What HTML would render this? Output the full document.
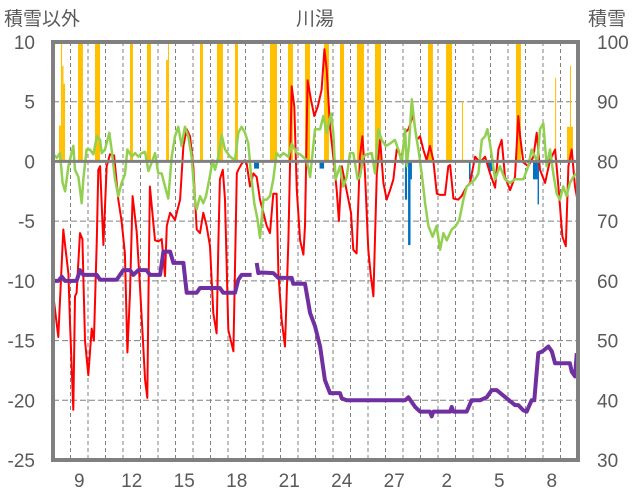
<!DOCTYPE html>
<html><head><meta charset="utf-8"><style>
html,body{margin:0;padding:0;background:#fff;}
svg{display:block;font-family:"Liberation Sans","Noto Sans CJK JP",sans-serif;}
</style></head><body>
<svg id="chart" width="636" height="501" viewBox="0 0 636 501" xmlns="http://www.w3.org/2000/svg">
<text x="4" y="25" font-size="19" fill="#595959">積雪以外</text>
<text x="315" y="25" font-size="19" fill="#595959" text-anchor="middle">川湯</text>
<text x="588" y="25" font-size="19" fill="#595959">積雪</text>
<g id="grid"></g>
<g id="bars"></g>
<g id="lines"></g>
<g id="axes"></g>
</svg>
<script>
const leftTicks=[10,5,0,-5,-10,-15,-20,-25];
const rightTicks=[100,90,80,70,60,50,40,30];
const dayLabels=["9","12","15","18","21","24","27","2","5","8"];
const dayLabelIdx=[1,4,7,10,13,16,19,22,25,28];
const numDays=30;
// orange bars: start day, end day, value (left axis)
const oStart=[0.34,0.45,0.52,0.6,1.43,2.4,4.4,5.37,6.46,6.57,8.4,9.37,10.4,12.4,13.43,14.4,15.49,16.4,17.37,18.4,21.43,22.46,23.37,26.46,28.69,29.37,29.54,29.6];
const oEnd=[0.45,0.52,0.6,0.69,1.71,2.69,4.57,5.6,6.57,6.63,8.57,9.71,10.57,12.8,13.71,14.69,15.77,16.63,17.77,18.74,21.71,22.8,23.43,26.74,28.75,29.54,29.6,29.71];
const oVal=[3,12,8,6.5,12,12,12,12,8.5,12,12,12,12,12,12,12,12,12,12,12,12,12,5,12,7,2.9,8,2.9];
// blue bars
const bStart=[11.49,15.23,20.11,20.29,20.43,23.77,24.86,27.43,27.69,29.9];
const bEnd=[11.77,15.49,20.23,20.43,20.51,23.86,25.11,27.69,27.77,29.97];
const bVal=[-0.6,-0.6,-3.2,-7,-1.5,-1.5,-0.8,-1.5,-3.6,-0.8];
// red series
const redT=[0.02,0.3,0.59,0.88,0.97,1.16,1.26,1.35,1.54,1.68,1.83,2.02,2.21,2.34,2.5,2.59,2.69,2.88,3.07,3.26,3.49,3.73,3.92,4.11,4.25,4.4,4.55,4.78,4.97,5.26,5.39,5.45,5.54,5.83,6.02,6.21,6.4,6.5,6.69,6.97,7.26,7.45,7.64,7.83,8.02,8.21,8.4,8.59,8.78,8.97,9.16,9.35,9.45,9.54,9.7,9.83,10.02,10.31,10.5,10.59,10.78,10.97,11.07,11.26,11.45,11.64,11.83,12.02,12.21,12.4,12.59,12.78,12.88,13.07,13.26,13.45,13.64,13.79,13.93,14.12,14.31,14.4,14.55,14.74,14.93,15.13,15.35,15.51,15.64,15.83,16.02,16.21,16.34,16.5,16.69,16.88,17.03,17.16,17.35,17.54,17.68,17.83,18.02,18.15,18.31,18.5,18.69,18.88,19.07,19.26,19.45,19.64,19.93,20.12,20.31,20.59,20.78,20.97,21.16,21.35,21.54,21.73,21.93,22.12,22.4,22.59,22.69,22.88,23.16,23.35,23.64,23.83,24.12,24.4,24.69,24.97,25.26,25.45,25.64,25.83,26.12,26.4,26.59,26.69,26.88,27.16,27.45,27.64,27.83,28.12,28.4,28.69,28.88,29.11,29.3,29.45,29.64,29.83,30];
const redV=[-11.3,-14.7,-5.7,-9.4,-13.5,-20.8,-11.3,-11,-6,-6.5,-15,-17.9,-14,-15,-6.6,-0.7,-0.4,-7,-0.4,0.6,0.5,-3.2,-5,-7.7,-16,-11,-2.9,-5.9,-10.5,-18.3,-19.8,-11.6,-2.1,-6.6,-6.7,-6.5,-9.6,-5.4,-4.3,-4.9,-3.2,1.3,2.7,2.1,-0.4,-5.7,-6,-4.3,-5.4,-7.1,-12.7,-14.4,-6.7,-1.5,-0.7,-3.2,-14.1,-15.9,-1,-0.7,-0.2,0.1,-0.2,-2.1,-1,-1.3,-3.2,-4.3,-5.4,-6,-2.7,-2.7,-9.4,-13.3,-15.5,-6.6,6.3,4.6,-2.4,-6.6,-7.8,-5.4,6.8,5.2,3.8,4.6,6,9.4,7.7,2.9,0.4,-2.4,-5,-0.4,-1.8,-3.2,-4.3,-7.4,-7.7,0.4,2.1,-1,-7.4,-9.4,-11.3,-1,1.8,-1.8,-3.2,-2.4,-1.5,1,0.4,2.4,2.7,3.9,1.8,2.1,1,0.1,1.3,0.1,-2.7,-2.8,-2.8,-0.4,-0.3,-3.1,-3.2,-2.9,-2.1,-1.8,0.4,-0.1,0.4,-1,-2.2,1,1.8,-1.3,-2.4,-1.3,3.8,2.1,-0.1,-0.4,0.4,2.4,-0.7,-1.8,0.1,1,-2.1,-6.3,-7.1,-0.4,1,-2.1,-3.5];
// green series
const greenT=[0.02,0.21,0.4,0.55,0.69,0.88,1.16,1.26,1.45,1.64,1.73,1.92,2.11,2.31,2.5,2.69,2.78,2.97,3.22,3.35,3.54,3.73,3.92,4.11,4.25,4.5,4.69,4.88,5.07,5.26,5.45,5.64,5.83,6.02,6.21,6.4,6.59,6.78,6.97,7.16,7.35,7.54,7.73,7.92,8.11,8.21,8.4,8.59,8.74,8.93,9.12,9.26,9.45,9.64,9.83,10.12,10.4,10.59,10.78,10.97,11.16,11.31,11.5,11.69,11.83,12.02,12.21,12.4,12.59,12.78,12.97,13.16,13.45,13.64,13.93,14.12,14.5,14.69,14.97,15.26,15.45,15.64,15.89,16.02,16.15,16.4,16.59,16.78,16.97,17.16,17.41,17.54,17.73,17.92,18.21,18.4,18.59,18.78,19.02,19.26,19.54,19.73,19.93,20.12,20.21,20.34,20.5,20.69,20.88,21.07,21.26,21.45,21.69,21.92,22.12,22.31,22.5,22.78,23.02,23.22,23.45,23.64,24.12,24.31,24.5,24.69,24.82,24.97,25.26,25.54,25.83,26.12,26.4,26.69,26.88,27.16,27.35,27.54,27.68,27.83,28.02,28.21,28.4,28.59,28.78,28.97,29.16,29.35,29.54,29.73,29.88];
const greenV=[0.6,0.3,0.7,-1.8,-2.5,-0.4,1.3,-0.7,-1.3,-3.5,-1.5,1,1,0.6,2.1,1.8,0.7,1,2.4,1,-1.5,-2.9,-1.8,-1.1,1,0.4,0.7,0.4,0.7,0.8,-0.8,-0.1,0.7,-1,-1,-2.1,-3.1,0.4,2.1,2.9,1.3,2.9,2.1,0.4,-3.2,-4,-2.9,-3.5,-2.9,-1.5,0.1,-0.7,0.4,2.2,1,0.4,0.1,2.4,2.9,2.4,1.5,-1,-3.5,-4.9,-6.4,-3.2,-3.2,-2.9,-1.5,0.7,0.4,0.7,0.4,1.5,0.7,0.6,0.1,-1.3,2.7,2.7,3.8,2.4,4,2.4,-1.5,-0.4,-2.1,-1.3,0.7,0.7,-1.5,-1.3,0.4,0.6,0.7,-1,2.7,1.8,1.3,1.5,1.8,1,-0.1,2.7,-0.4,1.3,5.2,2.7,1,-1,-3.5,-5.4,-6.3,-5.4,-7.4,-6,-6.6,-5.7,-5.4,-4.9,-3.2,-2.1,-1.5,-1,1.8,2.1,2.7,1.5,-1.5,-0.4,-1.5,-1.8,-1.5,-1.5,-1.5,-0.4,1,0.4,0,2.7,3.2,-0.4,1,-1,-2.7,-3.2,-2.1,-2.9,-1.8,-1.3,-1,-1,-0.7];
// purple snow depth (right axis), null = gap
const purpT=[0.02,0.31,0.5,0.69,1.35,1.54,1.73,2.5,2.69,3.64,3.83,4.02,4.4,4.59,4.88,5.35,5.54,6.12,6.31,6.69,6.88,7.45,7.64,8.21,8.4,9.54,9.73,10.12,10.4,10.59,10.78,11.35,11.45,11.64,11.73,11.92,12.59,12.88,13.64,13.73,14.4,14.69,14.97,15.26,15.54,15.83,16.4,16.5,16.78,20.12,20.31,20.69,20.97,21.54,21.64,21.73,22.69,22.78,22.88,23.64,23.92,24.4,24.78,25.07,25.35,26.4,26.59,26.88,27.07,27.35,27.5,27.73,27.97,28.31,28.5,28.69,29.54,29.64,29.83,29.93];
const purpV=[60,60,60.7,60,60,61.8,61,61,60.2,60.2,61,61.8,61.8,61,61.8,61.8,61,61,64.9,64.9,63,63,58,58,58.8,58.8,58,58,58,60.2,61,61,null,63,61.3,61.4,61.3,60.5,60.5,59.5,59.5,54.6,52.4,49,43.4,41.2,41.2,40.3,40,40,40.5,38.9,38.1,38.1,37.3,38.1,38.1,38.9,38.1,38.1,40,40,40.5,41.7,41.7,39.2,39.2,38.3,38.1,40,40,47.9,48.2,49,48.2,46.2,46.2,44.8,44,47.9];

const NS="http://www.w3.org/2000/svg";
const svg=document.getElementById('chart');
const X0=53,X1=578,Y0=42,Y1=460;
const dayW=(X1-X0)/numDays;
function xs(t){return X0+t*dayW;}
function yl(v){return Y1-(v+25)*(Y1-Y0)/35;}
function yr(v){return Y1-(v-30)*(Y1-Y0)/70;}
function mk(tag,attrs,parent){const e=document.createElementNS(NS,tag);for(const k in attrs)e.setAttribute(k,attrs[k]);parent.appendChild(e);return e;}
const grid=document.getElementById('grid'),bars=document.getElementById('bars'),lines=document.getElementById('lines'),axes=document.getElementById('axes');

// gridlines
for(let d=1;d<numDays;d++){
  const g=mk('line',{x1:xs(d),x2:xs(d),y1:Y0,y2:Y1,stroke:'#808080','stroke-width':1,'stroke-dasharray':'4,3'},grid);
  
  
}
leftTicks.forEach(v=>{
  if(v!==0&&v!==10&&v!==-25){
    const g=mk('line',{x1:X0,x2:X1,y1:yl(v),y2:yl(v),stroke:'#808080','stroke-width':1,'stroke-dasharray':'6,3'},grid);
    
    
  }
  const t=mk('text',{x:35,y:yl(v)+7,'font-size':19,fill:'#595959','text-anchor':'end'},axes);
  t.textContent=String(v);
  
  
});
rightTicks.forEach(v=>{
  const t=mk('text',{x:597,y:yr(v)+7,'font-size':19,fill:'#595959'},axes);
  t.textContent=String(v);
  
  
});
dayLabels.forEach((s,i)=>{
  const t=mk('text',{x:xs(dayLabelIdx[i]+0.5),y:487,'font-size':19,fill:'#595959','text-anchor':'middle'},axes);
  t.textContent=s;
  
  
});
// bars
oStart.forEach((s,i)=>{
  const v=Math.min(oVal[i],10);
  const r=mk('rect',{x:xs(s),y:yl(v),width:Math.max(1,xs(oEnd[i])-xs(s)),height:yl(0)-yl(v),fill:'#FFC000'},bars);
  
  
});
bStart.forEach((s,i)=>{
  const r=mk('rect',{x:xs(s),y:yl(0),width:Math.max(1,xs(bEnd[i])-xs(s)),height:yl(bVal[i])-yl(0),fill:'#0070C0'},bars);
  
  
});
// lines
function path(T,V,yf){let d='',pen=false;T.forEach((t,i)=>{if(V[i]===null){pen=false;return;}d+=(pen?'L':'M')+xs(t).toFixed(1)+','+yf(V[i]).toFixed(1);pen=true;});return d;}
const red=mk('path',{d:path(redT,redV,yl),fill:'none',stroke:'#FF0000','stroke-width':2,'stroke-linejoin':'round'},lines);


const green=mk('path',{d:path(greenT,greenV,yl),fill:'none',stroke:'#92D050','stroke-width':2.5,'stroke-linejoin':'round'},lines);


const purp=mk('path',{d:path(purpT,purpV,yr),fill:'none',stroke:'#7030A0','stroke-width':4,'stroke-linejoin':'round'},lines);


// zero line & frame
const z=mk('line',{x1:X0,x2:X1,y1:yl(0),y2:yl(0),stroke:'#808080','stroke-width':3},axes);


const f=mk('rect',{x:X0,y:Y0,width:X1-X0,height:Y1-Y0,fill:'none',stroke:'#808080','stroke-width':4},axes);


</script>
</body></html>
